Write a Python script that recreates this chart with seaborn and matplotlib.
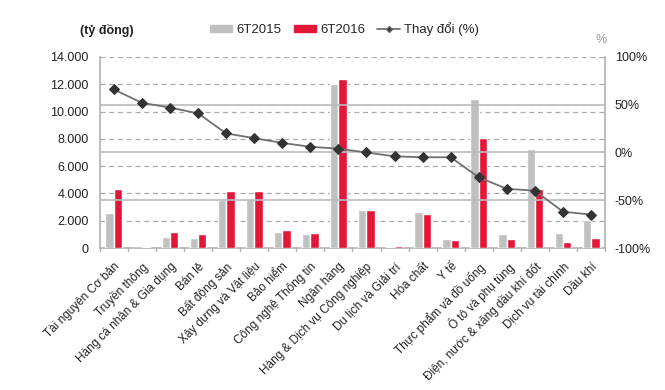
import numpy as np
import pandas as pd
import matplotlib
matplotlib.use('Agg')
import matplotlib.pyplot as plt
from matplotlib.patches import Patch
from matplotlib.lines import Line2D
import seaborn as sns

# Dữ liệu (tỷ đồng)
categories = ['Tài nguyên Cơ bản', 'Truyền thông', 'Hàng cá nhân & Gia dụng', 'Bán lẻ',
              'Bất động sản', 'Xây dựng và Vật liệu', 'Bảo hiểm', 'Công nghệ Thông tin',
              'Ngân hàng', 'Hàng & Dịch vụ Công nghiệp', 'Du lịch và Giải trí', 'Hóa chất',
              'Y tế', 'Thực phẩm và đồ uống', 'Ô tô và phụ tùng',
              'Điện, nước & xăng dầu khí đốt', 'Dịch vụ tài chính', 'Dầu khí']
v2015 = [2600, 30, 780, 750, 3500, 3600, 1200, 1030, 12000, 2810, 100, 2610, 660,
         10920, 1030, 7250, 1100, 2080]
v2016 = [4320, 100, 1200, 1050, 4150, 4150, 1320, 1100, 12400, 2810, 170, 2490, 610,
         8060, 660, 4320, 440, 730]
change = [66, 52, 47, 41, 20, 15, 10, 6, 4, 0, -4, -5, -5, -26, -38, -40, -62, -65]
left_ticks = [0, 2000, 4000, 6000, 8000, 10000, 12000, 14000]
right_ticks = [-100, -50, 0, 50, 100]

gray = '#c0c0c0'
red = '#e3173a'
axis_col = '#b0b0b0'
text_col = '#222222'

sns.set_style('white')
plt.rcParams['font.family'] = ['Liberation Sans', 'DejaVu Sans']

df = pd.DataFrame({
    'category': categories * 2,
    'value': v2015 + v2016,
    'period': ['6T2015'] * len(categories) + ['6T2016'] * len(categories),
})

fig = plt.figure(figsize=(6.65, 3.9), dpi=100)
ax = fig.add_axes([0.150, 0.364, 0.760, 0.490])

sns.barplot(data=df, x='category', y='value', hue='period', order=categories,
            palette={'6T2015': gray, '6T2016': red}, width=0.6, saturation=1,
            legend=False, ax=ax, zorder=3)

ax.set_ylim(0, 14000)
ax.set_xlim(-0.5, len(categories) - 0.5)
ax.set_yticks(left_ticks)
ax.set_yticklabels([f'{t:,}'.replace(',', '.') for t in left_ticks], fontsize=9, color=text_col)
ax.set_xlabel('')
ax.set_ylabel('')
for t in left_ticks[1:]:
    ax.axhline(t, color='#aaaaaa', lw=0.9, ls=(0, (4, 3)), zorder=1)

ax.set_xticks(np.arange(len(categories)))
ax.set_xticklabels(categories, rotation=45, ha='right', rotation_mode='anchor',
                   fontsize=8.5, color=text_col)
ax.tick_params(axis='x', length=0, pad=9)
ax.tick_params(axis='y', length=0, pad=8)
# vạch chia giữa các nhóm
for b in np.arange(len(categories) + 1) - 0.5:
    ax.plot([b, b], [0, -250], color=axis_col, lw=1, clip_on=False, zorder=2)

for side in ['top', 'right']:
    ax.spines[side].set_visible(False)
for side in ['left', 'bottom']:
    ax.spines[side].set_color(axis_col)
    ax.spines[side].set_linewidth(1.2)

ax2 = ax.twinx()
ax2.set_ylim(-100, 100)
ax2.set_yticks(right_ticks)
ax2.set_yticklabels([f'{t}%' for t in right_ticks], fontsize=9, color=text_col)
ax2.tick_params(axis='y', length=0, pad=7)
for t in [-50, 0, 50]:
    ax2.axhline(t, color='#bbbbbb', lw=1.2, zorder=1)
sns.lineplot(x=np.arange(len(categories)), y=change, ax=ax2, color='#707070', lw=1.3,
             marker='D', markersize=5, markerfacecolor='#333333', markeredgecolor='#333333',
             zorder=5)
for side in ['top', 'left', 'bottom']:
    ax2.spines[side].set_visible(False)
ax2.spines['right'].set_color(axis_col)
ax2.spines['right'].set_linewidth(1.2)

fig.text(0.12, 0.912, '(tỷ đồng)', fontsize=9, fontweight='bold', color=text_col)
fig.text(0.895, 0.89, '%', fontsize=9, color='#999999')

handles = [Patch(color=gray, label='6T2015'),
           Patch(color=red, label='6T2016'),
           Line2D([0], [0], color='#666666', lw=1.2, marker='D', markersize=3,
                  markerfacecolor='#333333', label='Thay đổi (%)')]
fig.legend(handles=handles, loc='center', bbox_to_anchor=(0.518, 0.925), ncol=3,
           frameon=False, fontsize=9.5, handlelength=1.7, handleheight=0.5,
           columnspacing=0.9, handletextpad=0.35)

fig.savefig('out.png', dpi=100)
